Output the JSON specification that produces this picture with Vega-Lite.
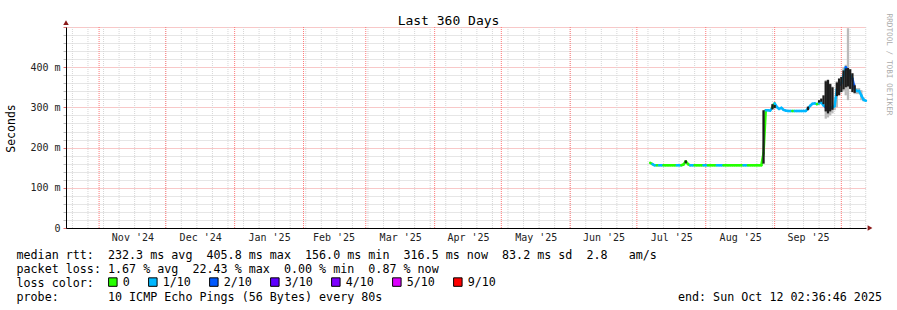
{
  "$schema": "https://vega.github.io/schema/vega-lite/v6.json",
  "width": 800,
  "height": 201,
  "autosize": "none",
  "padding": {"left": 66, "top": 27, "right": 31, "bottom": 82},
  "background": "#ffffff",
  "config": {"view": {"stroke": null}},
  "title": {"text": "Last 360 Days", "frame": "group", "anchor": "middle", "dx": -17.5, "dy": 24.5, "offset": 0, "baseline": "alphabetic", "font": "DejaVu Sans Mono", "fontSize": 13, "fontWeight": "normal", "color": "#000000"},
  "datasets": {
    "weeks": [
      {"d": "2024-10-20"}, {"d": "2024-10-27"}, {"d": "2024-11-03"}, {"d": "2024-11-10"}, {"d": "2024-11-17"}, {"d": "2024-11-24"},
      {"d": "2024-12-01"}, {"d": "2024-12-08"}, {"d": "2024-12-15"}, {"d": "2024-12-22"}, {"d": "2024-12-29"},
      {"d": "2025-01-05"}, {"d": "2025-01-12"}, {"d": "2025-01-19"}, {"d": "2025-01-26"},
      {"d": "2025-02-02"}, {"d": "2025-02-09"}, {"d": "2025-02-16"}, {"d": "2025-02-23"},
      {"d": "2025-03-02"}, {"d": "2025-03-09"}, {"d": "2025-03-16"}, {"d": "2025-03-23"}, {"d": "2025-03-30"},
      {"d": "2025-04-06"}, {"d": "2025-04-13"}, {"d": "2025-04-20"}, {"d": "2025-04-27"},
      {"d": "2025-05-04"}, {"d": "2025-05-11"}, {"d": "2025-05-18"}, {"d": "2025-05-25"},
      {"d": "2025-06-01"}, {"d": "2025-06-08"}, {"d": "2025-06-15"}, {"d": "2025-06-22"}, {"d": "2025-06-29"},
      {"d": "2025-07-06"}, {"d": "2025-07-13"}, {"d": "2025-07-20"}, {"d": "2025-07-27"},
      {"d": "2025-08-03"}, {"d": "2025-08-10"}, {"d": "2025-08-17"}, {"d": "2025-08-24"}, {"d": "2025-08-31"},
      {"d": "2025-09-07"}, {"d": "2025-09-14"}, {"d": "2025-09-21"}, {"d": "2025-09-28"},
      {"d": "2025-10-05"}, {"d": "2025-10-12"}
    ],
    "months": [
      {"d": "2024-11-01"}, {"d": "2024-12-01"}, {"d": "2025-01-01"}, {"d": "2025-02-01"}, {"d": "2025-03-01"}, {"d": "2025-04-01"},
      {"d": "2025-05-01"}, {"d": "2025-06-01"}, {"d": "2025-07-01"}, {"d": "2025-08-01"}, {"d": "2025-09-01"}, {"d": "2025-10-01"}
    ],
    "rtt": [
      {"d": "2025-07-07", "m": 0.162, "l": "0"},
      {"d": "2025-07-08", "m": 0.159, "l": "1/10"},
      {"d": "2025-07-09", "m": 0.156, "l": "1/10"},
      {"d": "2025-07-10", "m": 0.156, "l": "0"},
      {"d": "2025-07-11", "m": 0.156, "l": "1/10"},
      {"d": "2025-07-12", "m": 0.156, "l": "1/10"},
      {"d": "2025-07-13", "m": 0.156, "l": "0"},
      {"d": "2025-07-14", "m": 0.156, "l": "0"},
      {"d": "2025-07-15", "m": 0.156, "l": "0"},
      {"d": "2025-07-16", "m": 0.156, "l": "0"},
      {"d": "2025-07-17", "m": 0.156, "l": "0"},
      {"d": "2025-07-18", "m": 0.156, "l": "0"},
      {"d": "2025-07-19", "m": 0.156, "l": "1/10"},
      {"d": "2025-07-20", "m": 0.156, "l": "1/10"},
      {"d": "2025-07-21", "m": 0.156, "l": "0"},
      {"d": "2025-07-22", "m": 0.158, "l": "0"},
      {"d": "2025-07-23", "m": 0.166, "l": "0", "lo": 0.161, "hi": 0.168},
      {"d": "2025-07-24", "m": 0.159, "l": "0"},
      {"d": "2025-07-25", "m": 0.156, "l": "1/10"},
      {"d": "2025-07-26", "m": 0.156, "l": "1/10"},
      {"d": "2025-07-27", "m": 0.156, "l": "0"},
      {"d": "2025-07-28", "m": 0.156, "l": "0"},
      {"d": "2025-07-29", "m": 0.156, "l": "0"},
      {"d": "2025-07-30", "m": 0.156, "l": "0"},
      {"d": "2025-07-31", "m": 0.156, "l": "1/10"},
      {"d": "2025-08-01", "m": 0.156, "l": "1/10"},
      {"d": "2025-08-02", "m": 0.156, "l": "0"},
      {"d": "2025-08-03", "m": 0.156, "l": "0"},
      {"d": "2025-08-04", "m": 0.156, "l": "0"},
      {"d": "2025-08-05", "m": 0.156, "l": "0"},
      {"d": "2025-08-06", "m": 0.156, "l": "1/10"},
      {"d": "2025-08-07", "m": 0.156, "l": "1/10"},
      {"d": "2025-08-08", "m": 0.156, "l": "1/10"},
      {"d": "2025-08-09", "m": 0.156, "l": "0"},
      {"d": "2025-08-10", "m": 0.156, "l": "0"},
      {"d": "2025-08-11", "m": 0.156, "l": "0"},
      {"d": "2025-08-12", "m": 0.156, "l": "0"},
      {"d": "2025-08-13", "m": 0.156, "l": "0"},
      {"d": "2025-08-14", "m": 0.156, "l": "0"},
      {"d": "2025-08-15", "m": 0.156, "l": "0"},
      {"d": "2025-08-16", "m": 0.156, "l": "0"},
      {"d": "2025-08-17", "m": 0.156, "l": "0"},
      {"d": "2025-08-18", "m": 0.156, "l": "1/10"},
      {"d": "2025-08-19", "m": 0.156, "l": "1/10"},
      {"d": "2025-08-20", "m": 0.156, "l": "0"},
      {"d": "2025-08-21", "m": 0.156, "l": "0"},
      {"d": "2025-08-22", "m": 0.156, "l": "0"},
      {"d": "2025-08-23", "m": 0.156, "l": "0"},
      {"d": "2025-08-24", "m": 0.156, "l": "0"},
      {"d": "2025-08-25", "m": 0.156, "l": "0"},
      {"d": "2025-08-26", "m": 0.156, "l": "0"},
      {"d": "2025-08-27", "m": 0.186, "l": "0", "lo": 0.160, "hi": 0.293},
      {"d": "2025-08-28", "m": 0.293, "l": "1/10"},
      {"d": "2025-08-29", "m": 0.293, "l": "1/10"},
      {"d": "2025-08-30", "m": 0.292, "l": "1/10"},
      {"d": "2025-08-31", "m": 0.300, "l": "0", "lo": 0.295, "hi": 0.308},
      {"d": "2025-09-01", "m": 0.310, "l": "1/10", "lo": 0.298, "hi": 0.306},
      {"d": "2025-09-02", "m": 0.301, "l": "1/10"},
      {"d": "2025-09-03", "m": 0.296, "l": "1/10"},
      {"d": "2025-09-04", "m": 0.299, "l": "1/10"},
      {"d": "2025-09-05", "m": 0.294, "l": "1/10"},
      {"d": "2025-09-06", "m": 0.292, "l": "1/10"},
      {"d": "2025-09-07", "m": 0.291, "l": "1/10"},
      {"d": "2025-09-08", "m": 0.291, "l": "1/10"},
      {"d": "2025-09-09", "m": 0.291, "l": "0"},
      {"d": "2025-09-10", "m": 0.291, "l": "1/10"},
      {"d": "2025-09-11", "m": 0.291, "l": "1/10"},
      {"d": "2025-09-12", "m": 0.291, "l": "1/10"},
      {"d": "2025-09-13", "m": 0.291, "l": "1/10"},
      {"d": "2025-09-14", "m": 0.291, "l": "1/10"},
      {"d": "2025-09-15", "m": 0.291, "l": "1/10"},
      {"d": "2025-09-16", "m": 0.297, "l": "1/10", "lo": 0.293, "hi": 0.302},
      {"d": "2025-09-17", "m": 0.304, "l": "1/10"},
      {"d": "2025-09-18", "m": 0.309, "l": "1/10"},
      {"d": "2025-09-19", "m": 0.310, "l": "1/10"},
      {"d": "2025-09-20", "m": 0.308, "l": "0"},
      {"d": "2025-09-21", "m": 0.310, "l": "1/10", "lo": 0.312, "hi": 0.318},
      {"d": "2025-09-22", "m": 0.312, "l": "1/10", "lo": 0.314, "hi": 0.322},
      {"d": "2025-09-23", "m": 0.305, "l": "1/10", "lo": 0.308, "hi": 0.330},
      {"d": "2025-09-24", "m": 0.300, "l": "3/10", "lo": 0.290, "hi": 0.365, "gl": 0.272, "gh": 0.368},
      {"d": "2025-09-25", "m": 0.295, "l": "1/10", "lo": 0.285, "hi": 0.368, "gl": 0.275, "gh": 0.370},
      {"d": "2025-09-26", "m": 0.298, "l": "2/10", "lo": 0.290, "hi": 0.358, "gl": 0.280, "gh": 0.360},
      {"d": "2025-09-27", "m": 0.300, "l": "1/10", "lo": 0.294, "hi": 0.350, "gl": 0.285, "gh": 0.352},
      {"d": "2025-09-28", "m": 0.303, "l": "1/10", "gl": 0.293, "gh": 0.326},
      {"d": "2025-09-29", "m": 0.345, "l": "1/10", "lo": 0.328, "hi": 0.362, "gl": 0.300, "gh": 0.365},
      {"d": "2025-09-30", "m": 0.355, "l": "2/10", "lo": 0.330, "hi": 0.372},
      {"d": "2025-10-01", "m": 0.360, "l": "1/10", "lo": 0.338, "hi": 0.376},
      {"d": "2025-10-02", "m": 0.380, "l": "1/10", "lo": 0.345, "hi": 0.392, "gl": 0.340, "gh": 0.400},
      {"d": "2025-10-03", "m": 0.400, "l": "2/10", "lo": 0.350, "hi": 0.397, "gl": 0.330, "gh": 0.406},
      {"d": "2025-10-04", "m": 0.392, "l": "1/10", "lo": 0.352, "hi": 0.398, "gl": 0.318, "gh": 0.497},
      {"d": "2025-10-05", "m": 0.380, "l": "1/10", "lo": 0.346, "hi": 0.395},
      {"d": "2025-10-06", "m": 0.372, "l": "2/10", "lo": 0.338, "hi": 0.385},
      {"d": "2025-10-07", "m": 0.345, "l": "1/10", "lo": 0.336, "hi": 0.355, "gl": 0.333, "gh": 0.358},
      {"d": "2025-10-08", "m": 0.341, "l": "1/10", "gl": 0.333, "gh": 0.348},
      {"d": "2025-10-09", "m": 0.341, "l": "1/10", "gl": 0.333, "gh": 0.348},
      {"d": "2025-10-10", "m": 0.330, "l": "1/10", "gl": 0.318, "gh": 0.343},
      {"d": "2025-10-11", "m": 0.319, "l": "1/10", "gl": 0.315, "gh": 0.325},
      {"d": "2025-10-12T02:00:00Z", "m": 0.3165, "l": "1/10"}
    ],
    "arrows": [
      {"d": "2025-10-13T22:00:00Z", "v": 0, "s": "triangle-right"},
      {"d": "2024-10-17T02:36:46Z", "v": 0.511, "s": "triangle-up"}
    ]
  },
  "encoding": {
    "x": {
      "field": "d",
      "type": "temporal",
      "scale": {"type": "utc", "domain": [{"year": 2024, "month": 10, "date": 17, "hours": 2, "minutes": 36, "seconds": 46, "utc": true}, {"year": 2025, "month": 10, "date": 12, "hours": 2, "minutes": 36, "seconds": 46, "utc": true}]},
      "axis": {
        "values": [
          {"year": 2024, "month": 11, "date": 16, "utc": true},
          {"year": 2024, "month": 12, "date": 16, "hours": 12, "utc": true},
          {"year": 2025, "month": 1, "date": 16, "hours": 12, "utc": true},
          {"year": 2025, "month": 2, "date": 14, "hours": 12, "utc": true},
          {"year": 2025, "month": 3, "date": 16, "hours": 12, "utc": true},
          {"year": 2025, "month": 4, "date": 16, "utc": true},
          {"year": 2025, "month": 5, "date": 16, "hours": 12, "utc": true},
          {"year": 2025, "month": 6, "date": 16, "utc": true},
          {"year": 2025, "month": 7, "date": 16, "hours": 12, "utc": true},
          {"year": 2025, "month": 8, "date": 16, "hours": 12, "utc": true},
          {"year": 2025, "month": 9, "date": 16, "utc": true}
        ],
        "format": "%b '%y",
        "grid": false,
        "ticks": false,
        "domain": true,
        "domainColor": "#000000",
        "domainWidth": 1,
        "zindex": 1,
        "labelFont": "DejaVu Sans Mono",
        "labelFontSize": 10,
        "labelColor": "#222222",
        "labelPadding": 4,
        "labelFlush": false,
        "labelOverlap": false,
        "title": [
          "median rtt: \u00a0232.3 ms avg \u00a0405.8 ms max \u00a0156.0 ms min \u00a0316.5 ms now \u00a083.2 ms sd \u00a02.8 \u00a0\u00a0am/s",
          "packet loss: 1.67 % avg \u00a022.43 % max \u00a00.00 % min \u00a00.87 % now",
          "loss color:",
          "probe:\u00a0\u00a0\u00a0\u00a0\u00a0\u00a0\u00a010 ICMP Echo Pings (56 Bytes) every 80s\u00a0\u00a0\u00a0\u00a0\u00a0\u00a0\u00a0\u00a0\u00a0\u00a0\u00a0\u00a0\u00a0\u00a0\u00a0\u00a0\u00a0\u00a0\u00a0\u00a0\u00a0\u00a0\u00a0\u00a0\u00a0\u00a0\u00a0\u00a0\u00a0\u00a0\u00a0\u00a0\u00a0\u00a0\u00a0\u00a0\u00a0\u00a0\u00a0\u00a0\u00a0\u00a0end: Sun Oct 12 02:36:46 2025"
        ],
        "titleFont": "DejaVu Sans Mono",
        "titleFontSize": 11.7,
        "titleFontWeight": "normal",
        "titleColor": "#000000",
        "titleX": -50,
        "titleY": 30,
        "titleAlign": "left",
        "titleAnchor": "start",
        "titleBaseline": "alphabetic",
        "titleLineHeight": 14
      }
    }
  },
  "layer": [
    {
      "data": {"name": "weeks"},
      "mark": {"type": "rule", "stroke": "#d6d6d6", "strokeWidth": 1, "strokeDash": [1, 1]}
    },
    {
      "data": {"name": "months"},
      "mark": {"type": "rule", "stroke": "#ff7878", "strokeWidth": 1, "strokeDash": [1, 1]}
    },
    {
      "data": {"name": "rtt"},
      "transform": [{"filter": "isValid(datum.gl)"}],
      "mark": {"type": "rule", "stroke": "#bbbbbb", "strokeWidth": 2.3},
      "encoding": {
        "y": {
          "field": "gl",
          "type": "quantitative",
          "scale": {"domain": [0, 0.5], "nice": false},
          "axis": {
            "orient": "left",
            "values": [0, 0.02, 0.04, 0.06, 0.08, 0.1, 0.12, 0.14, 0.16, 0.18, 0.2, 0.22, 0.24, 0.26, 0.28, 0.3, 0.32, 0.34, 0.36, 0.38, 0.4, 0.42, 0.44, 0.46, 0.48, 0.5],
            "labelExpr": "(round(datum.value*1000) % 100 == 0 && datum.value < 0.45) ? (datum.value == 0 ? '0' : round(datum.value*1000) + ' m') : ''",
            "grid": true,
            "gridColor": {"condition": {"test": "round(datum.value*1000) % 100 == 0", "value": "#f09090"}, "value": "#cccccc"},
            "gridDash": [1, 1],
            "ticks": true,
            "tickSize": 3,
            "tickColor": {"condition": {"test": "round(datum.value*1000) % 100 == 0", "value": "#e07070"}, "value": "#bbbbbb"},
            "domain": true,
            "domainColor": "#000000",
            "labelFont": "DejaVu Sans Mono",
            "labelFontSize": 10,
            "labelColor": "#222222",
            "labelPadding": 3,
            "labelOverlap": false,
            "labelFlush": false,
            "title": "Seconds",
            "titleFont": "DejaVu Sans Mono",
            "titleFontSize": 11.5,
            "titleFontWeight": "normal",
            "titleColor": "#000000",
            "titleX": -55,
            "titleY": 101,
            "titleAlign": "center",
            "titleBaseline": "middle",
            "titleAngle": -90
          }
        },
        "y2": {"field": "gh"}
      }
    },
    {
      "data": {"name": "rtt"},
      "transform": [
        {"window": [{"op": "lead", "field": "m", "as": "m2"}, {"op": "lead", "field": "d", "as": "d2"}], "sort": [{"field": "d", "order": "ascending"}]},
        {"filter": "datum.d2 != null"}
      ],
      "mark": {"type": "rule", "strokeWidth": 2.5, "strokeCap": "round"},
      "encoding": {
        "x2": {"field": "d2"},
        "y": {"field": "m", "type": "quantitative", "scale": {"domain": [0, 0.5], "nice": false}, "axis": null},
        "y2": {"field": "m2"},
        "stroke": {
          "field": "l",
          "type": "nominal",
          "scale": {"domain": ["9/10", "5/10", "4/10", "3/10", "2/10", "1/10", "0"], "range": ["#ff0000", "#dd00ff", "#7e00ff", "#5e00ff", "#0059ff", "#00b8ff", "#26ff00"]},
          "legend": null
        }
      }
    },
    {
      "data": {"name": "rtt"},
      "transform": [{"filter": "isValid(datum.lo)"}],
      "mark": {"type": "rule", "stroke": "#1c1c1c", "strokeWidth": 2.3},
      "encoding": {
        "y": {"field": "lo", "type": "quantitative", "scale": {"domain": [0, 0.5], "nice": false}, "axis": null},
        "y2": {"field": "hi"}
      }
    },
    {
      "data": {"name": "rtt"},
      "transform": [{"filter": "false"}],
      "mark": {"type": "square", "filled": true},
      "encoding": {
        "y": {"field": "m", "type": "quantitative", "scale": {"domain": [0, 0.5], "nice": false}, "axis": null},
        "color": {
          "field": "l",
          "type": "nominal",
          "scale": {"domain": ["0", "1/10", "2/10", "3/10", "4/10", "5/10", "9/10"], "range": ["#26ff00", "#00b8ff", "#0059ff", "#5e00ff", "#7e00ff", "#dd00ff", "#ff0000"]},
          "legend": {
            "orient": "none",
            "legendX": 41,
            "legendY": 249,
            "direction": "horizontal",
            "title": null,
            "padding": 0,
            "symbolType": "square",
            "symbolSize": 72,
            "symbolOpacity": 1,
            "symbolStrokeWidth": 1,
            "symbolStrokeColor": "#000000",
            "labelFont": "DejaVu Sans Mono",
            "labelFontSize": 11.7,
            "labelColor": "#000000",
            "labelOffset": 4,
            "columnPadding": 16
          }
        }
      }
    },
    {
      "data": {"name": "arrows"},
      "mark": {"type": "point", "filled": true, "color": "#8b1a1a", "size": 30, "opacity": 1},
      "encoding": {
        "y": {
          "field": "v",
          "type": "quantitative",
          "scale": {"domain": [0, 0.5], "nice": false},
          "axis": {
            "orient": "right",
            "labels": false,
            "ticks": false,
            "domain": false,
            "grid": false,
            "title": "RRDTOOL / TOBI OETIKER",
            "titleAngle": 90,
            "titleX": 22,
            "titleY": 37,
            "titleAlign": "center",
            "titleBaseline": "middle",
            "titleColor": "#aaaaaa",
            "titleFont": "DejaVu Sans Mono",
            "titleFontSize": 7.7,
            "titleFontWeight": "normal"
          }
        },
        "shape": {"field": "s", "type": "nominal", "scale": null}
      }
    }
  ],
  "resolve": {"axis": {"y": "independent"}}
}
